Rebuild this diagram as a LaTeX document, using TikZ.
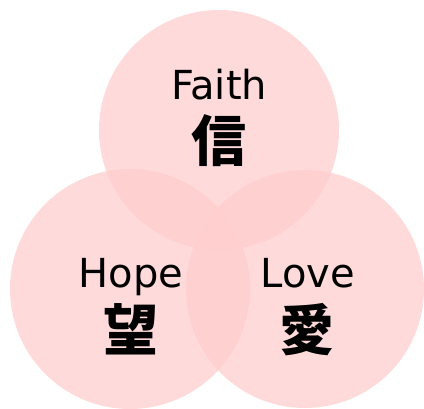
\documentclass[tikz,border=0pt]{standalone}
\usepackage{fontspec}
\usepackage{tikz}
\usetikzlibrary{positioning}
\newfontfamily\latinsans{DejaVu Sans}
\newfontfamily\cjk{Noto Sans CJK JP}
\definecolor{vennpink}{RGB}{255,205,205}

\begin{document}
\begin{tikzpicture}[x=1pt,y=-1pt,
  ring/.style={fill=vennpink,fill opacity=0.75},
  word/.style={font=\latinsans\fontsize{40}{44}\selectfont,inner sep=0pt,anchor=base},
  kanji/.style={font=\cjk\bfseries\fontsize{55}{60}\selectfont,inner sep=0pt}]
\useasboundingbox (0,0) rectangle (424,408);
% three circles
\fill[ring] (219,130) circle (120);
\fill[ring] (130,289) circle (120);
\fill[ring] (305,289) circle (119);
% labels
\node[word] (faith) at (219,99) {Faith};
\node[kanji] (xin) at (219,141) {信};
\node[word] (hope) at (131,287) {Hope};
\node[kanji] (wang) at (131,329) {望};
\node[word] (love) at (308,287) {Love};
\node[kanji] (ai) at (307,330) {愛};
\end{tikzpicture}
\end{document}
